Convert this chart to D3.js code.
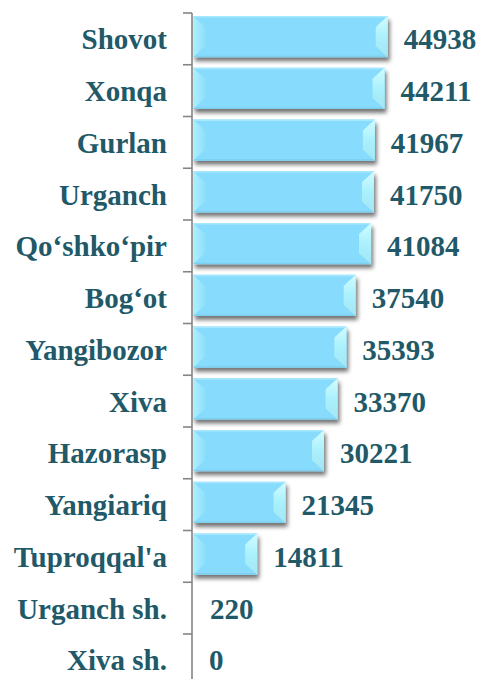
<!DOCTYPE html>
<html><head><meta charset="utf-8">
<script src="https://cdn.jsdelivr.net/npm/d3@7"></script>
<style>html,body{margin:0;padding:0;background:#fff;overflow:hidden}</style>
</head><body>
<svg id="chart" width="480" height="679"></svg>
<script>
const categories = ["Shovot","Xonqa","Gurlan","Urganch","Qo‘shko‘pir","Bog‘ot","Yangibozor","Xiva","Hazorasp","Yangiariq","Tuproqqal'a","Urganch sh.","Xiva sh."];
const values = [44938,44211,41967,41750,41084,37540,35393,33370,30221,21345,14811,220,0];

const svg = d3.select("#chart");
const textColor = "#215968";
const FONT = "\"Liberation Serif\"";

const y = d3.scaleBand().domain(categories).range([13, 13 + 13*51.75]).padding(0);
const x = d3.scaleLinear().domain([0, 45000]).range([193, 388]);

const defs = svg.append("defs");
const f = defs.append("filter").attr("id","shadow").attr("x","-10%").attr("y","-20%").attr("width","130%").attr("height","160%");
f.append("feGaussianBlur").attr("in","SourceAlpha").attr("stdDeviation",2.2).attr("result","b");
f.append("feOffset").attr("in","b").attr("dx",1.5).attr("dy",4).attr("result","o");
f.append("feComponentTransfer").attr("in","o").attr("result","o2")
  .append("feFuncA").attr("type","linear").attr("slope",0.55);
const m = f.append("feMerge");
m.append("feMergeNode").attr("in","o2");
m.append("feMergeNode").attr("in","SourceGraphic");

const gR = defs.append("linearGradient").attr("id","gR").attr("x1",0).attr("y1",0).attr("x2",0).attr("y2",1);
gR.append("stop").attr("offset","0%").attr("stop-color","#d2fcff");
gR.append("stop").attr("offset","50%").attr("stop-color","#aaf1fd");
gR.append("stop").attr("offset","100%").attr("stop-color","#a2e6f2");
const gL = defs.append("linearGradient").attr("id","gL").attr("x1",0).attr("y1",0).attr("x2",1).attr("y2",0);
gL.append("stop").attr("offset","0%").attr("stop-color","#aef0fd");
gL.append("stop").attr("offset","100%").attr("stop-color","#8fdffc");

const bh = y.bandwidth()*0.795;
const by = d => y(d) + y.bandwidth()*0.058;
const bev = 12;

const bars = svg.append("g").selectAll("g.bar")
  .data(categories.map((c,i)=>({c, v: values[i]})).filter(d=>d.v > 1000))
  .join("g").attr("class","bar");

bars.each(function(d){
  const g = d3.select(this);
  const x0 = x(0), x1 = x(d.v), y0 = by(d.c), y1 = y0 + bh;
  const b = Math.min(bev, (x1-x0)/2);
  const tb = 11;
  g.append("rect").attr("x",x0).attr("y",y0).attr("width",x1-x0).attr("height",bh)
    .attr("fill","#87dbfc").attr("filter","url(#shadow)");
  g.append("rect").attr("x",x0).attr("y",y0).attr("width",x1-x0).attr("height",1.5).attr("fill","#a6e8fd");
  g.append("rect").attr("x",x0).attr("y",y1-1.5).attr("width",x1-x0).attr("height",1.5).attr("fill","#7fd0ee");
  g.append("path").attr("d",`M${x0},${y0}L${x0+b},${y0+tb}L${x0+b},${y1-tb}L${x0},${y1}Z`).attr("fill","url(#gL)");
  g.append("path").attr("d",`M${x1},${y0}L${x1-b},${y0+tb}L${x1-b},${y1-tb}L${x1},${y1}Z`).attr("fill","url(#gR)");
});

// axis
const axisG = svg.append("g").attr("stroke","#858585").attr("stroke-width",1.6);
axisG.append("line").attr("x1",192).attr("x2",192).attr("y1",y.range()[0]).attr("y2",y.range()[1]);
const tickPos = categories.map(c=>y(c)).concat([y.range()[1]]);
axisG.selectAll("line.t").data(tickPos).join("line").attr("class","t")
  .attr("x1",183).attr("x2",192).attr("y1",d=>d).attr("y2",d=>d);

// category labels
svg.append("g").selectAll("text").data(categories).join("text")
  .attr("x",167).attr("y",d=>y(d)+y.bandwidth()/2).attr("dy","0.36em")
  .attr("text-anchor","end").attr("fill",textColor)
  .attr("font-family",FONT).attr("font-weight","bold").attr("font-size",29)
  .text(d=>d);

// value labels
svg.append("g").selectAll("text").data(categories.map((c,i)=>({c,v:values[i]}))).join("text")
  .attr("x",d=>x(d.v)+16).attr("y",d=>y(d.c)+y.bandwidth()/2).attr("dy","0.36em")
  .attr("fill",textColor)
  .attr("font-family",FONT).attr("font-weight","bold").attr("font-size",29)
  .text(d=>d.v);
</script>
</body></html>
